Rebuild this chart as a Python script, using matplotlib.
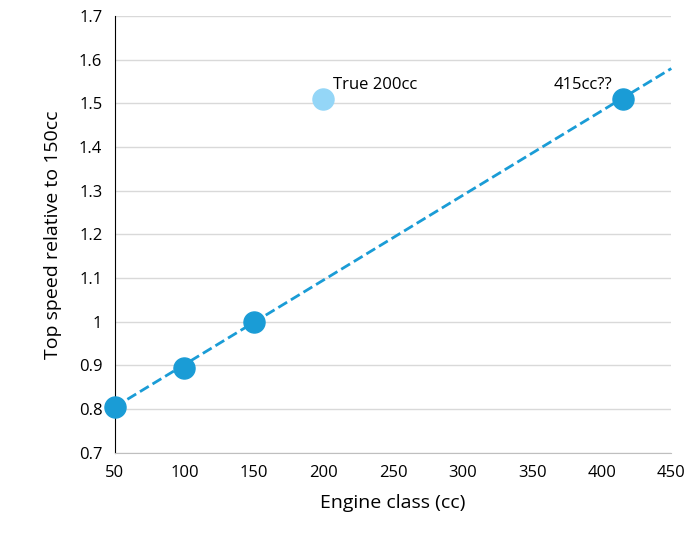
import matplotlib
matplotlib.use("Agg")
import matplotlib.pyplot as plt
import numpy as np

plt.rcParams["font.family"] = "Open Sans"

engine_cc = [50, 100, 150, 415]
rel_speed = [0.805, 0.895, 1.0, 1.51]
true200_cc = [200]
true200_speed = [1.51]
trend_x = [50, 450]
slope, intercept = 0.001938, 0.708

fig = plt.figure(figsize=(7, 5.39), dpi=100)
ax = fig.add_axes([0.164, 0.16, 0.795, 0.81])
ax.set_xlim(50, 450)
ax.set_ylim(0.7, 1.7)
ax.set_xticks(np.arange(50, 451, 50))
ax.set_yticks(np.round(np.arange(0.7, 1.71, 0.1), 1))
ax.set_yticklabels([("%g" % v) for v in np.round(np.arange(0.7, 1.71, 0.1), 1)])
ax.grid(axis="y", color="#d9d9d9", lw=1)
ax.set_axisbelow(True)
for s in ["top", "right"]:
    ax.spines[s].set_visible(False)
ax.spines["left"].set_color("#000000")
ax.spines["bottom"].set_color("#bfbfbf")
ax.tick_params(length=0, labelsize=12, pad=9)

tx = np.array(trend_x)
ax.plot(tx, slope * tx + intercept, ls="--", color="#1a9cd6", lw=2, clip_on=False, zorder=2)
ax.scatter(engine_cc, rel_speed, s=230, color="#1a9cd6", zorder=3, clip_on=False)
ax.scatter(true200_cc, true200_speed, s=230, color="#94d6f7", zorder=3)
ax.text(207, 1.525, "True 200cc", fontsize=12, ha="left", va="bottom")
ax.text(408, 1.525, "415cc??", fontsize=12, ha="right", va="bottom")
ax.set_xlabel("Engine class (cc)", fontsize=14, labelpad=9)
ax.set_ylabel("Top speed relative to 150cc", fontsize=14, labelpad=12)
fig.savefig("out.png", dpi=100)
